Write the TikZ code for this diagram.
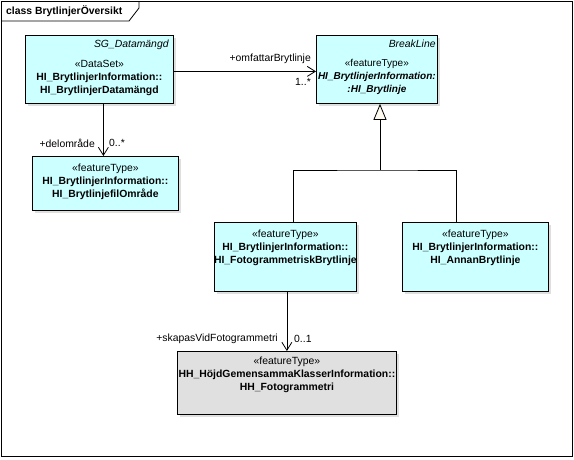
\documentclass[tikz,border=0pt]{standalone}
\usepackage{fontspec}
\setmainfont{Liberation Sans}
\usetikzlibrary{arrows.meta,shadows}
\definecolor{klassfill}{RGB}{204,255,255}
\definecolor{extfill}{RGB}{224,224,224}
\definecolor{trifill}{RGB}{255,250,240}
\begin{document}
\begin{tikzpicture}[x=1pt,y=-1pt,line join=miter,
  klass/.style={draw,line width=0.8pt,fill=klassfill,anchor=north west,inner sep=0pt,
    drop shadow={shadow xshift=2.5pt,shadow yshift=-2.5pt,opacity=0.25}},
  ext/.style={klass,fill=extfill},
  stereo/.style={font=\fontsize{10.4}{13}\selectfont,align=center,inner sep=0pt},
  kname/.style={font=\fontsize{10.4}{12}\selectfont\itshape,anchor=north east,inner sep=0pt},
  rolle/.style={font=\fontsize{10.4}{12}\selectfont,inner sep=0pt},
  assoc/.style={line width=0.8pt,-{Straight Barb[length=8pt,width=10pt,line width=0.8pt]}},
  gen/.style={line width=0.8pt,-{Triangle[open,length=16pt,width=13pt,fill=trifill,line width=0.8pt]}}]
  \useasboundingbox (0,0) rectangle (574,459);
  % frame and tab
  \draw[line width=1pt] (1,1) rectangle (572,456);
  \draw[line width=0.8pt] (1,21) -- (129,21) -- (139,8) -- (139,1);
  \node[font=\fontsize{10.4}{12}\selectfont\bfseries,anchor=west,inner sep=0pt] (titel) at (6,11) {class BrytlinjerÖversikt};
  % classes
  \node[klass,minimum width=148,minimum height=68] (sg) at (25,35) {};
  \node[kname] (sgname) at ([xshift=-5pt,yshift=-5pt]sg.north east) {SG\_Datamängd};
  \node[stereo] (sgtxt) at ([yshift=-42.5pt]sg.north) {«DataSet»\\\textbf{HI\_BrytlinjerInformation::}\\\textbf{HI\_BrytlinjerDatamängd}};
  \node[klass,minimum width=121,minimum height=68] (brk) at (316,35) {};
  \node[kname] (brkname) at ([xshift=-2pt,yshift=-5pt]brk.north east) {BreakLine};
  \node[stereo,font=\fontsize{10}{13}\selectfont] (brktxt) at ([yshift=-42pt]brk.north) {«featureType»\\\textbf{\textit{HI\_BrytlinjerInformation:}}\\\textbf{\textit{:HI\_Brytlinje}}};
  \node[klass,minimum width=146,minimum height=54] (del) at (32,156) {};
  \node[stereo] (deltxt) at ([yshift=-26pt]del.north) {«featureType»\\\textbf{HI\_BrytlinjerInformation::}\\\textbf{HI\_BrytlinjefilOmråde}};
  \node[klass,minimum width=142,minimum height=69] (foto) at (214,222) {};
  \node[stereo] (fototxt) at ([yshift=-25.5pt]foto.north) {«featureType»\\\textbf{HI\_BrytlinjerInformation::}\\\textbf{HI\_FotogrammetriskBrytlinje}};
  \node[klass,minimum width=146,minimum height=69] (annan) at (402,222) {};
  \node[stereo] (annantxt) at ([yshift=-25.5pt]annan.north) {«featureType»\\\textbf{HI\_BrytlinjerInformation::}\\\textbf{HI\_AnnanBrytlinje}};
  \node[ext,minimum width=219,minimum height=63] (hh) at (177,351) {};
  \node[stereo] (hhtxt) at ([yshift=-24pt]hh.north) {«featureType»\\\textbf{HH\_HöjdGemensammaKlasserInformation::}\\\textbf{HH\_Fotogrammetri}};
  % associations
  \coordinate (omf) at ([yshift=-2pt]sg.east);
  \draw[assoc] (omf) -- (omf -| brk.west);
  \node[rolle,anchor=east] (omfl) at (311,59) {+omfattarBrytlinje};
  \node[rolle,anchor=east] (omfm) at (311,82) {1..*};
  \coordinate (delo) at ([xshift=-2pt]del.north);
  \draw[assoc] (delo |- sg.south) -- (delo);
  \node[rolle,anchor=east] (dell) at (95,143) {+delområde};
  \node[rolle,anchor=west] (delm) at (109,143) {0..*};
  \draw[assoc] (hh.north |- foto.south) -- (hh.north);
  \node[rolle,anchor=east] (skl) at (278,339) {+skapasVidFotogrammetri};
  \node[rolle,anchor=west] (skm) at (294,339) {0..1};
  % generalisation
  \coordinate (fork) at (380,170);
  \coordinate (fototop) at ([xshift=8pt]foto.north);
  \coordinate (annantop) at ([xshift=-19pt]annan.north);
  \draw[line width=0.8pt] (fototop) |- (fork) -| (annantop);
  \draw[gen] (fork) -- (fork |- brk.south);
\end{tikzpicture}
\end{document}
